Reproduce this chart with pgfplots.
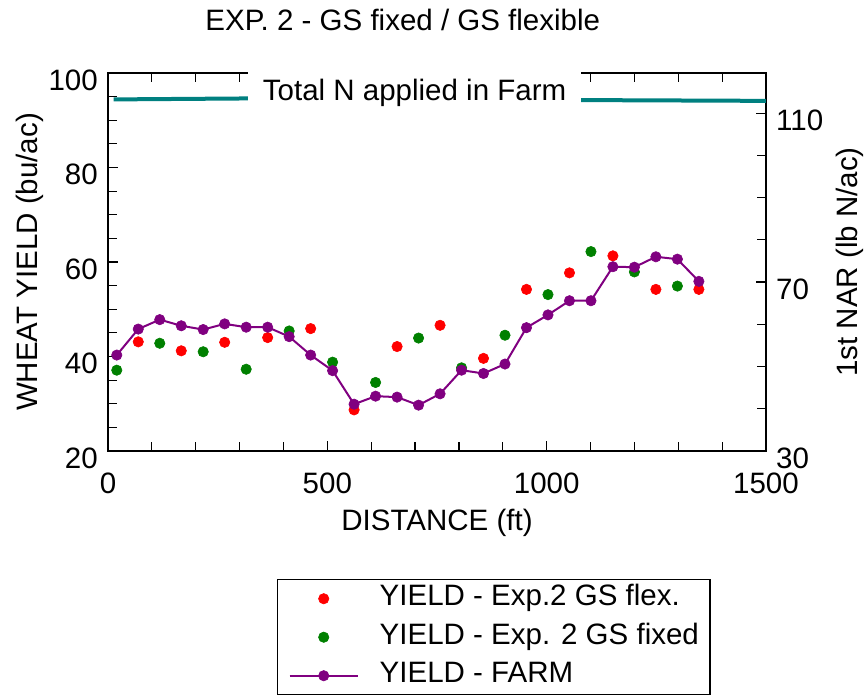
\documentclass[border=0pt]{standalone}
\usepackage{fontspec}
\setmainfont{Liberation Sans}
\usepackage{pgfplots}
\pgfplotsset{compat=1.18}
\usepackage{pgfplotstable}

\definecolor{flexred}{RGB}{255,0,0}
\definecolor{fixgreen}{RGB}{0,128,0}
\definecolor{farmpurple}{RGB}{128,0,128}
\definecolor{nteal}{RGB}{0,128,128}

% yield, Exp.2 GS flexible
\pgfplotstableread{
x y
69 43.1
167 41.2
266 43.0
364 44.0
462 45.9
561 28.7
659 42.1
757 46.6
856 39.6
954 54.2
1052 57.7
1151 61.3
1249 54.2
1347 54.2
}\flex

% yield, Exp.2 GS fixed
\pgfplotstableread{
x y
20 37.1
118 42.8
217 41.0
315 37.3
413 45.4
512 38.8
610 34.5
708 43.9
806 37.6
905 44.5
1003 53.1
1101 62.2
1200 57.9
1298 54.9
}\fixed

% yield, farm
\pgfplotstableread{
x y
20 40.3
69 45.8
118 47.8
167 46.5
217 45.7
266 46.9
315 46.2
364 46.2
413 44.2
462 40.3
512 37.0
561 29.9
610 31.6
659 31.4
708 29.7
757 32.1
806 37.1
856 36.4
905 38.4
954 46.1
1003 48.8
1052 51.8
1101 51.8
1151 59.0
1200 58.9
1249 61.1
1298 60.6
1347 55.9
}\farm

% total N applied (right axis)
\pgfplotstableread{
x y
13 113.24
327 113.48
1092 113.08
1500 112.9
}\nrate

\begin{document}
\fontsize{14.75}{17.7}\selectfont
\begin{tikzpicture}
\begin{axis}[
  name=main,
  scale only axis, width=329pt, height=189pt,
  xmin=0, xmax=1500, ymin=20, ymax=100,
  xtick={0,500,1000,1500}, minor x tick num=4,
  ytick={20,40,...,100}, minor y tick num=3,
  ytick pos=left,
  tick align=inside,
  major tick length=5pt, minor tick length=4.5pt,
  every tick/.style={black, line width=0.6pt},
  axis line style={line width=0.9pt},
  /pgf/number format/assume math mode=true,
  /pgf/number format/1000 sep={},
  xticklabel style={anchor=base, yshift=-21.5pt},
  yticklabel style={yshift=-3.5pt},
  title={EXP. 2 - GS fixed / GS flexible},
  every axis title shift=0pt,
  title style={at={(axis description cs:0.448,1)}, anchor=base, yshift=21pt, inner sep=0pt},
  xlabel={DISTANCE (ft)},
  xlabel style={at={(axis description cs:0.5,0)}, anchor=base, yshift=-40pt, inner sep=0pt},
  ylabel={WHEAT YIELD (bu/ac)},
  ylabel style={at={(axis description cs:-0.1064,0.5)}, anchor=base, inner sep=0pt},
  legend cell align=left,
  legend style={at={(axis description cs:0.2568,0)}, anchor=north west, yshift=-64pt,
    draw=black, line width=0.75pt, inner xsep=5.5pt, inner ysep=2.5pt, row sep=5.25pt,
    nodes={inner sep=0pt, text height=10.5pt, text depth=3.5pt},
    /tikz/every odd column/.append style={column sep=10.5pt}},
  legend image code/.code={\draw[mark repeat=2,mark phase=2,#1] plot coordinates {(0pt,0pt) (17pt,0pt) (34pt,0pt)};},
]
\addplot[only marks, mark=*, mark size=2.6pt, mark options={draw=flexred, fill=flexred, line width=0.3pt}] table {\flex};
\addlegendentry{YIELD - Exp.2 GS flex.}
\addplot[only marks, mark=*, mark size=2.6pt, mark options={draw=fixgreen, fill=fixgreen, line width=0.3pt}] table {\fixed};
\addlegendentry{YIELD - Exp. 2 GS fixed}
\addplot[farmpurple, line width=1pt, mark=*, mark size=2.6pt, mark options={draw=farmpurple, fill=farmpurple, line width=0.3pt}] table {\farm};
\addlegendentry{YIELD - FARM}
\end{axis}
\begin{axis}[
  scale only axis, width=329pt, height=189pt,
  xmin=0, xmax=1500, ymin=30, ymax=119.5,
  axis y line*=right, axis x line=none,
  ytick={30,70,110}, minor ytick={40,50,60,80,90,100},
  tick align=inside,
  major tick length=5pt, minor tick length=4.5pt,
  every tick/.style={black, line width=0.6pt},
  axis line style={line width=0.9pt},
  /pgf/number format/assume math mode=true,
  yticklabel style={yshift=-3.5pt},
  ylabel={1st NAR (lb N/ac)},
  ylabel style={at={(axis description cs:1.1383,0.5)}, anchor=base, inner sep=0pt},
]
\addplot[nteal, line width=2pt] table {\nrate};
\node[fill=white, anchor=base, inner xsep=7.25pt] at (axis cs:699,113.08) {Total N applied in Farm};
\end{axis}
\path ([xshift=-54pt,yshift=36.5pt]main.north west) rectangle ([xshift=49pt,yshift=-121.5pt]main.south east);
\end{tikzpicture}
\end{document}
